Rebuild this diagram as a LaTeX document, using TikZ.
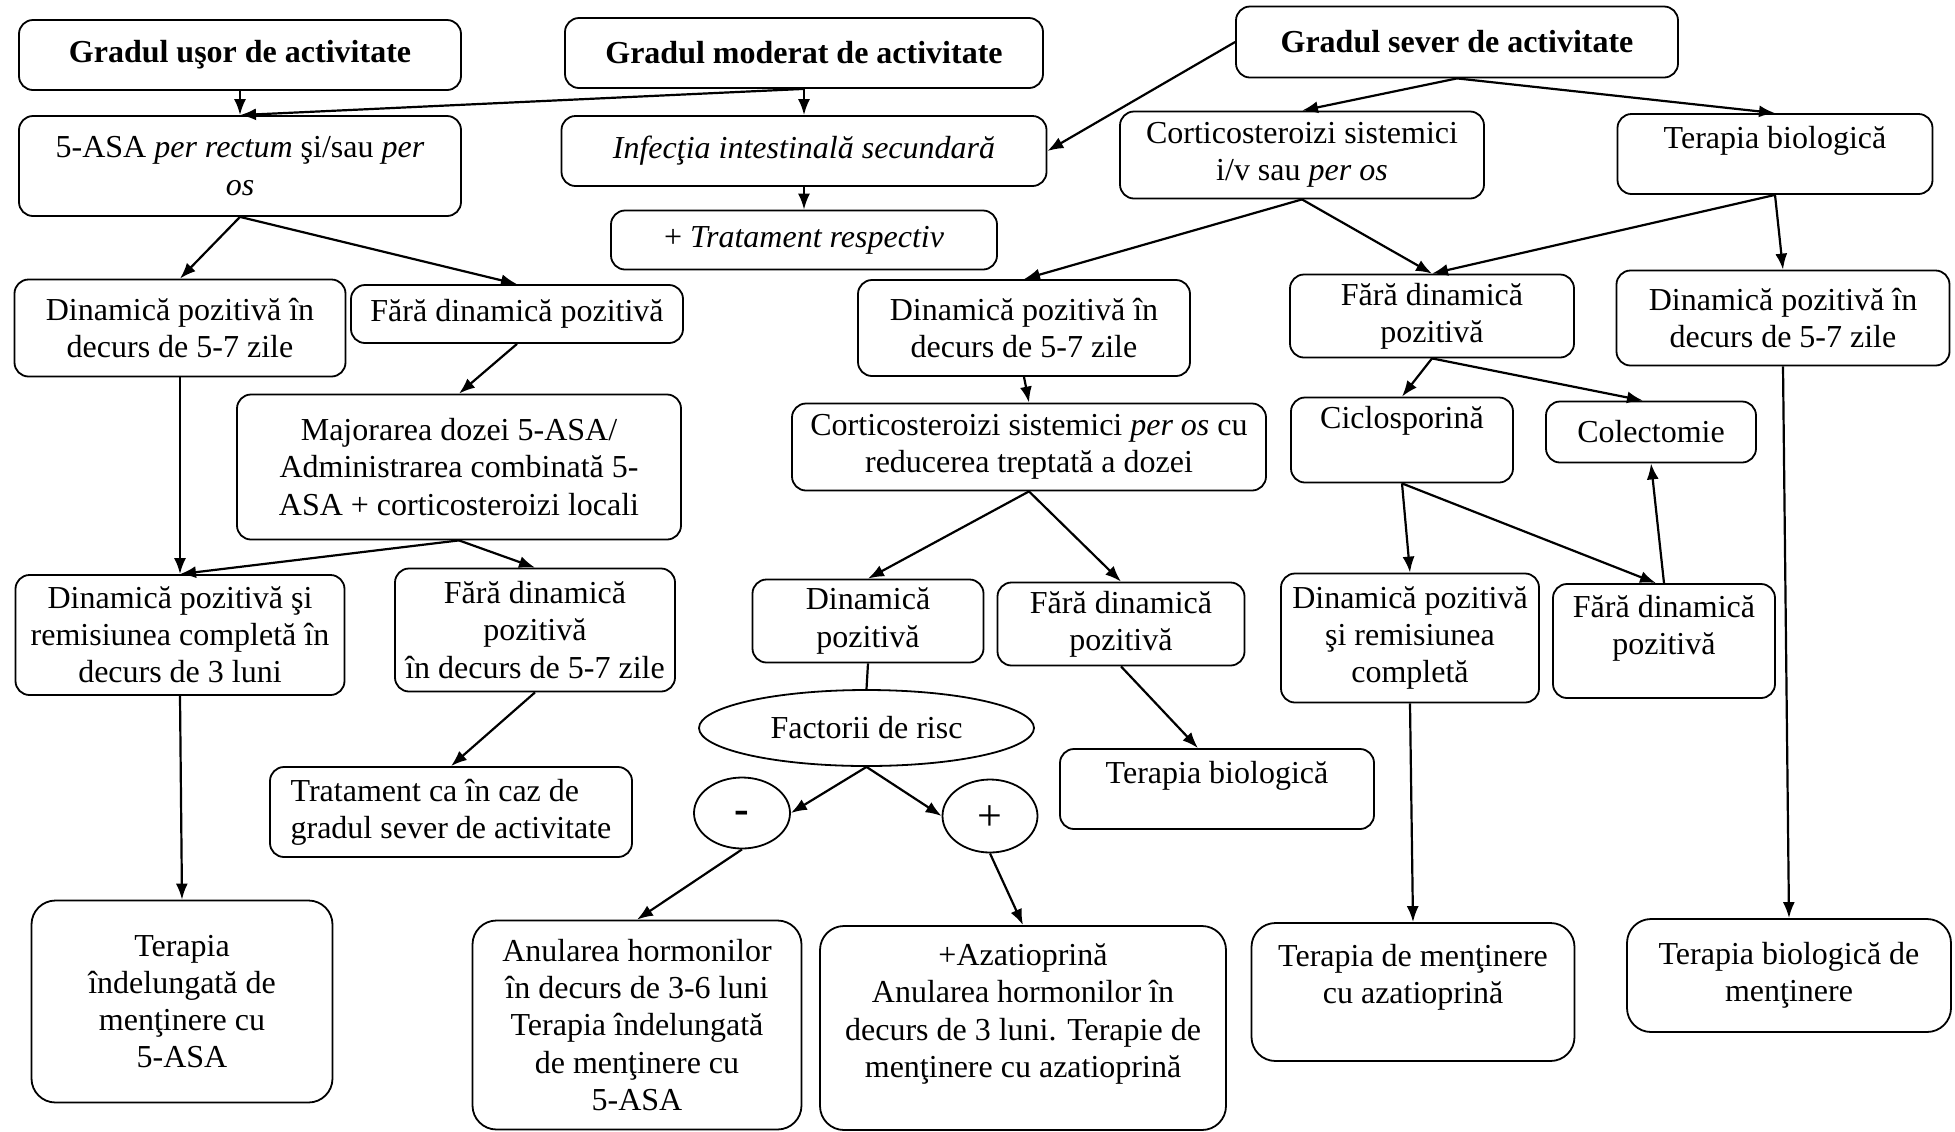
\documentclass[tikz,border=0pt]{standalone}
\usepackage{fontspec}
\setmainfont{Liberation Serif}
\usetikzlibrary{shapes.geometric,arrows.meta}

\begin{document}
\begin{tikzpicture}[x=0.5pt,y=-0.5pt,
  font=\fontsize{16}{18.6}\selectfont,
  box/.style={draw,line width=0.9pt,rounded corners=7pt,align=center,inner sep=2pt},
  bigbox/.style={box,rounded corners=12pt},
  oval/.style={draw,line width=0.9pt,ellipse,inner sep=0pt},
  sign/.style={oval,font=\fontsize{22}{24}\selectfont,text depth=0pt},
  lift/.style={text depth=#1},
  arr/.style={-{Latex[length=8pt,width=6pt]},line width=1.1pt},
  link/.style={line width=1.1pt}]
\useasboundingbox (0,0) rectangle (1955,1131);

% grades
\node[box,minimum width=221pt,minimum height=35pt] (a1) at (240,55) {\textbf{Gradul uşor de activitate}};
\node[box,minimum width=239pt,minimum height=35pt] (a2) at (804,53) {\textbf{Gradul moderat de activitate}};
\node[box,minimum width=221pt,minimum height=35.5pt] (a3) at (1457,42) {\textbf{Gradul sever de activitate}};

% first line of treatment
\node[box,minimum width=221pt,minimum height=50pt] (b1) at (240,166) {5-ASA \textit{per rectum} şi/sau \textit{per}\\\textit{os}};
\node[box,minimum width=242.5pt,minimum height=35pt] (b2) at (804,151) {\textit{Infecţia intestinală secundară}};
\node[box,minimum width=193pt,minimum height=29.5pt] (b3) at (804,240) {+ \textit{Tratament respectiv}};
\node[box,minimum width=182pt,minimum height=43.5pt] (b4) at (1302,155) {Corticosteroizi sistemici\\i/v sau \textit{per os}};
\node[box,lift=16.5pt,minimum width=157.5pt,minimum height=40pt] (b5) at (1775,154) {Terapia biologică};

% response after 5-7 days
\node[box,minimum width=165.5pt,minimum height=48.5pt] (c1) at (180,328) {Dinamică pozitivă în\\decurs de 5-7 zile};
\node[box,minimum width=166pt,minimum height=29pt] (c2) at (517,314) {Fără dinamică pozitivă};
\node[box,minimum width=166pt,minimum height=48pt] (c3) at (1024,328) {Dinamică pozitivă în\\decurs de 5-7 zile};
\node[box,minimum width=142pt,minimum height=41.5pt] (c4) at (1432,316) {Fără dinamică\\pozitivă};
\node[box,minimum width=166.5pt,minimum height=47.5pt] (c5) at (1783,318) {Dinamică pozitivă în\\decurs de 5-7 zile};

\node[box,minimum width=222pt,minimum height=72.5pt] (d1) at (459,467) {Majorarea dozei 5-ASA/\\Administrarea combinată 5-\\ASA + corticosteroizi locali};
\node[box,minimum width=237pt,minimum height=43.5pt] (d2) at (1029,447) {Corticosteroizi sistemici \textit{per os} cu\\reducerea treptată a dozei};
\node[box,lift=22.5pt,minimum width=111pt,minimum height=42.5pt] (d3) at (1402,440) {Ciclosporină};
\node[box,minimum width=105pt,minimum height=30.5pt] (d4) at (1651,432) {Colectomie};

\node[box,minimum width=164.5pt,minimum height=60pt] (e1) at (180,635) {Dinamică pozitivă şi\\remisiunea completă în\\decurs de 3 luni};
\node[box,minimum width=140pt,minimum height=61.5pt] (e2) at (535,630) {Fără dinamică\\pozitivă\\în decurs de 5-7 zile};
\node[box,minimum width=115.5pt,minimum height=41.5pt] (e3) at (868,621) {Dinamică\\pozitivă};
\node[box,minimum width=123.5pt,minimum height=41.5pt] (e4) at (1121,624) {Fără dinamică\\pozitivă};
\node[box,minimum width=129pt,minimum height=64.5pt] (e5) at (1410,638) {Dinamică pozitivă\\şi remisiunea\\completă};
\node[box,lift=16.5pt,minimum width=111pt,minimum height=57pt] (e6) at (1664,641) {Fără dinamică\\pozitivă};

% risk factors
\node[oval,minimum width=167.5pt,minimum height=38pt] (risc) at (866.5,728) {Factorii de risc};
\node[sign,text height=10pt,minimum width=48pt,minimum height=35.5pt] (minus) at (742,813) {\textbf{-}};
\node[sign,text height=14pt,minimum width=47.5pt,minimum height=36.5pt] (plus) at (990,816) {+};

\node[box,align=left,minimum width=181pt,minimum height=45pt] (f1) at (451,812) {Tratament ca în caz de\\gradul sever de activitate};
\node[box,lift=17pt,minimum width=157pt,minimum height=40pt] (f2) at (1217,789) {Terapia biologică};

% maintenance
\node[bigbox,minimum width=150.5pt,minimum height=101pt] (g1) at (182,1001.5) {Terapia\\îndelungată de\\menţinere cu\\5-ASA};
\node[bigbox,minimum width=164.5pt,minimum height=104.5pt] (g2) at (637,1025) {Anularea hormonilor\\în decurs de 3-6 luni\\Terapia îndelungată\\de menţinere cu\\5-ASA};
\node[bigbox,lift=17.5pt,minimum width=203pt,minimum height=102pt] (g3) at (1023,1028) {+Azatioprină\\Anularea hormonilor în\\decurs de 3 luni. Terapie de\\menţinere cu azatioprină};
\node[bigbox,lift=18pt,minimum width=161.5pt,minimum height=69pt] (g4) at (1413,992) {Terapia de menţinere\\cu azatioprină};
\node[bigbox,minimum width=162pt,minimum height=56.5pt] (g5) at (1789,975.5) {Terapia biologică de\\menţinere};

% connectors
\draw[arr] (a1.south) -- (b1.north);
\draw[arr] (a2.south) -- (b1.north);
\draw[arr] (a2.south) -- (b2.north);
\draw[arr] (a3.west) -- (b2.east);
\draw[arr] (a3.south) -- (b4.north);
\draw[arr] (a3.south) -- (b5.north);
\draw[arr] (b2.south) -- (b3.north);
\draw[arr] (b1.south) -- (c1.north);
\draw[arr] (b1.south) -- (c2.north);
\draw[arr] (b4.south) -- (c3.north);
\draw[arr] (b4.south) -- (c4.north);
\draw[arr] (b5.south) -- (c4.north);
\draw[arr] (b5.south) -- (c5.north);
\draw[arr] (c2.south) -- (d1.north);
\draw[arr] (c1.south) -- (e1.north);
\draw[arr] (d1.south) -- (e1.north);
\draw[arr] (d1.south) -- (e2.north);
\draw[arr] (c3.south) -- (d2.north);
\draw[arr] (c4.south) -- (d3.north);
\draw[arr] (c4.south) -- ([xshift=-4pt]d4.north);
\draw[arr] (c5.south) -- (g5.north);
\draw[arr] (d2.south) -- (e3.north);
\draw[arr] (d2.south) -- (e4.north);
\draw[arr] (d3.south) -- (e5.north);
\draw[arr] (d3.south) -- ([xshift=-4pt]e6.north);
\draw[arr] (e6.north) -- (d4.south);
\draw[arr] (e1.south) -- (g1.north);
\draw[arr] (e2.south) -- (f1.north);
\draw[link] (e3.south) -- (risc.north);
\draw[arr] (e4.south) -- ([xshift=-9.5pt]f2.north);
\draw[arr] (risc.south) -- (minus.east);
\draw[arr] (risc.south) -- (plus.west);
\draw[arr] (minus.south) -- (g2.north);
\draw[arr] (plus.south) -- (g3.north);
\draw[arr] (e5.south) -- (g4.north);
\end{tikzpicture}
\end{document}
